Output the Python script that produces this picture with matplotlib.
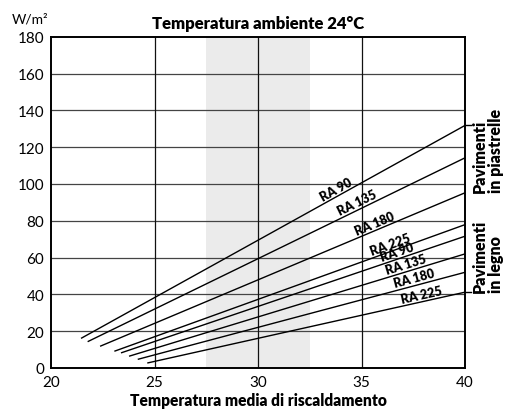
import numpy as np
import matplotlib
matplotlib.use("Agg")
from matplotlib import pyplot as plt

plt.rcParams["font.family"] = ["Lato", "DejaVu Sans"]

# curve data: start point and value at 40 °C
labels = ["RA 90", "RA 135", "RA 180", "RA 225", "RA 90", "RA 135", "RA 180", "RA 225"]
x_start = [21.45, 21.77, 22.37, 23.06, 23.38, 23.77, 24.19, 24.65]
y_start = [16.1, 14.3, 11.8, 9.1, 8.2, 6.4, 4.7, 2.7]
x_end = [40, 40, 40, 40, 40, 40, 40, 40]
y_end = [131.8, 114.2, 95.2, 77.9, 71.6, 62.0, 52.0, 41.2]
# label positions along the curves
label_x = [33.9, 34.9, 35.75, 36.5, 36.8, 37.25, 37.6, 37.95]

x_ticks = [20, 25, 30, 35, 40]
y_ticks = [0, 20, 40, 60, 80, 100, 120, 140, 160, 180]
band = (27.5, 32.5)

fig = plt.figure(figsize=(5.06, 4.10), dpi=100)
ax = fig.add_axes([0.1008, 0.1, 0.8182, 0.808])

ax.axvspan(band[0], band[1], color="#ebebeb", lw=0, zorder=0)
for yv in y_ticks[1:-1]:
    ax.axhline(yv, color="#444444", lw=0.9, zorder=1)
for xv in x_ticks[1:-1]:
    ax.axvline(xv, color="#111111", lw=0.9, zorder=1)

for i in range(len(labels)):
    ax.plot([x_start[i], x_end[i]], [y_start[i], y_end[i]], color="black", lw=1.0,
            solid_capstyle="butt", zorder=3)
    slope = (y_end[i] - y_start[i]) / (x_end[i] - x_start[i])
    lx = label_x[i]
    ly = y_start[i] + slope * (lx - x_start[i])
    ang = np.degrees(np.arctan2(y_end[i] - y_start[i], x_end[i] - x_start[i]))
    ax.text(lx, ly + 0.8, labels[i], rotation=ang, transform_rotates_text=True,
            rotation_mode="anchor", ha="center", va="bottom", fontsize=9,
            fontweight="heavy", zorder=4)

# small marks on the right edge for the two groups
for yv in [y_end[0], y_end[-1]]:
    ax.plot([40, 40.3], [yv, yv], color="black", lw=1.0, clip_on=False)

ax.set_xlim(20, 40)
ax.set_ylim(0, 180)
ax.set_xticks(x_ticks)
ax.set_yticks(y_ticks)
ax.tick_params(length=0, labelsize=11, pad=5)
for sp in ax.spines.values():
    sp.set_linewidth(1.4)

ax.set_title("Temperatura ambiente 24°C", fontsize=12, fontweight="heavy", pad=6)
ax.set_xlabel("Temperatura media di riscaldamento", fontsize=11.2, fontweight="heavy", labelpad=2)
fig.text(12 / 506, 1 - 19 / 410, "W/m²", fontsize=10, va="center", ha="left")

ax.text(40.35, y_end[2] + 0.5, "Pavimenti\nin piastrelle", rotation=90, ha="left", va="bottom",
        fontsize=11.5, fontweight="heavy", linespacing=0.95, multialignment="left")
ax.text(40.35, y_end[-1], "Pavimenti\nin legno", rotation=90, ha="left", va="bottom",
        fontsize=11.5, fontweight="heavy", linespacing=0.95, multialignment="left")

fig.savefig("out.png", dpi=100)
